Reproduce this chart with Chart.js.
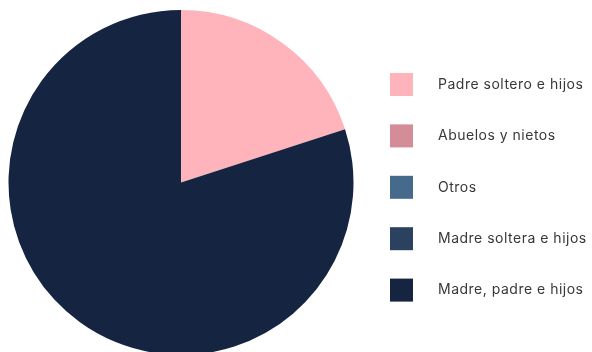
<!DOCTYPE html>
<html>
<head>
<meta charset="utf-8">
<script src="https://cdn.jsdelivr.net/npm/chart.js@4/dist/chart.umd.min.js"></script>
<style>
  html, body { margin: 0; padding: 0; background: #ffffff; overflow: hidden; width: 592px; height: 352px; }
  canvas { display: block; }
</style>
</head>
<body>
<canvas id="c" width="592" height="365"></canvas>
<script>
const categories = ["Padre soltero e hijos", "Abuelos y nietos", "Otros", "Madre soltera e hijos", "Madre, padre e hijos"];
const shares = [20, 0, 0, 0, 80];
const colors = ["#FFB3BA", "#D48C98", "#456A8C", "#2A4160", "#152440"];

const sideLegend = {
  id: 'sideLegend',
  afterDraw(chart) {
    const ctx = chart.ctx;
    const labels = chart.data.labels;
    const bg = chart.data.datasets[0].backgroundColor;
    ctx.save();
    ctx.font = '14px Inter, "Open Sans", sans-serif';
    if ('letterSpacing' in ctx) ctx.letterSpacing = '0.5px';
    ctx.textBaseline = 'middle';
    ctx.textAlign = 'left';
    labels.forEach((lab, i) => {
      const cy = 84.5 + i * 51.4;
      ctx.fillStyle = bg[i];
      ctx.fillRect(390, cy - 11.5, 23, 23);
      ctx.fillStyle = '#383838';
      ctx.fillText(lab, 438, cy);
    });
    ctx.restore();
  }
};

new Chart(document.getElementById('c'), {
  type: 'pie',
  data: {
    labels: categories,
    datasets: [{ data: shares, backgroundColor: colors, borderWidth: 0 }]
  },
  options: {
    responsive: false,
    animation: false,
    devicePixelRatio: 1,
    layout: { padding: { left: 8.5, right: 238.5, top: 10, bottom: 10 } },
    plugins: { legend: { display: false }, tooltip: { enabled: false } }
  },
  plugins: [sideLegend]
});
</script>
</body>
</html>
